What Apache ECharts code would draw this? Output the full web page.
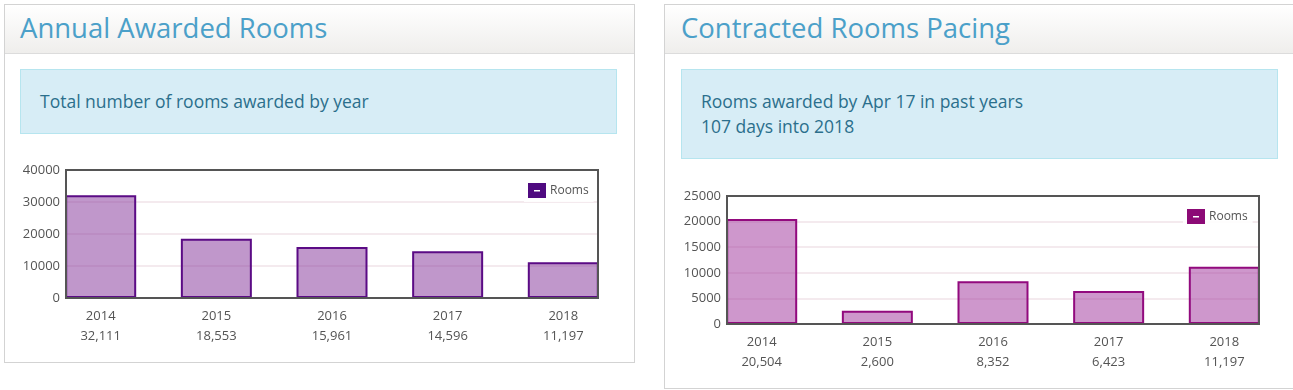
<!DOCTYPE html>
<html>
<head>
<meta charset="utf-8">
<script src="https://cdn.jsdelivr.net/npm/echarts@6/dist/echarts.min.js"></script>
<style>
  html, body { margin:0; padding:0; width:1293px; height:390px; overflow:hidden; background:#fff; font-family:"Open Sans", "DejaVu Sans", sans-serif; }
  .panel { position:absolute; border:1px solid #d3d3d3; box-sizing:border-box; background:#fff; }
  .head { position:absolute; left:0; top:0; right:0; height:48px; border-bottom:1px solid #dcdcdc;
          background:linear-gradient(#ffffff, #efeeec); }
  .head h2 { margin:0; font-weight:400; font-size:27.5px; line-height:46px; color:#4ba0c9; white-space:nowrap; }
  .info { position:absolute; top:64px; width:597px; box-sizing:border-box; background:#d7edf6; border:1px solid #b6e5ef;
          padding:19px 19px; font-size:17.5px; line-height:25px; color:#2b6f8c; }
  #chart { position:absolute; left:0; top:0; width:1293px; height:390px; }
</style>
</head>
<body>
<div class="panel" style="left:4px;top:4px;width:631px;height:359px;">
  <div class="head"><h2 style="padding-left:15px;">Annual Awarded Rooms</h2></div>
  <div class="info" style="left:15px;">Total number of rooms awarded by year</div>
</div>
<div class="panel" style="left:664px;top:4px;width:640px;height:385px;">
  <div class="head"><h2 style="padding-left:16px;">Contracted Rooms Pacing</h2></div>
  <div class="info" style="left:16px;">Rooms awarded by Apr 17 in past years<br>107 days into 2018</div>
</div>
<div id="chart"></div>
<script>
const years = [2014, 2015, 2016, 2017, 2018];
const annualRooms = [32111, 18553, 15961, 14596, 11197];
const pacingRooms = [20504, 2600, 8352, 6423, 11197];
const annualTicks = [0, 10000, 20000, 30000, 40000];
const pacingTicks = [0, 5000, 10000, 15000, 20000, 25000];

const fmt = v => v.toLocaleString('en-US');
const font = '"Open Sans", "DejaVu Sans", sans-serif';
const dashIcon = 'path://M0,0H18V15H0Z M6,7V8.5H12V7Z';

function xAxisFor(idx, values) {
  return {
    type: 'value', gridIndex: idx, min: 2013.7, max: 2018.3,
    axisLine: { show: false }, axisTick: { show: false }, splitLine: { show: false },
    axisLabel: {
      customValues: years, margin: 8, color: '#545454', fontSize: 13, fontFamily: font, lineHeight: 20,
      formatter: v => { const i = years.indexOf(Math.round(v)); return i < 0 ? '' : years[i] + '\n' + fmt(values[i]); }
    }
  };
}
function yAxisFor(idx, ticks) {
  return {
    type: 'value', gridIndex: idx, min: ticks[0], max: ticks[ticks.length - 1], interval: ticks[1] - ticks[0],
    axisLine: { show: false }, axisTick: { show: false },
    splitLine: { show: true, showMinLine: false, showMaxLine: false, lineStyle: { color: '#f1e3e9', width: 1.5 } },
    axisLabel: { margin: 6, color: '#545454', fontSize: 13, fontFamily: font, formatter: v => String(v) }
  };
}
function legendFor(left, top, color) {
  return {
    left: left, top: top, orient: 'vertical', backgroundColor: 'rgba(255,255,255,0.9)',
    padding: [4, 5, 4, 4], itemWidth: 18, itemHeight: 15, itemGap: 4,
    textStyle: { color: '#545454', fontSize: 12, fontFamily: font, padding: [0, 0, 0, -1] },
    selectedMode: false,
    data: [{ name: 'Rooms', icon: dashIcon, itemStyle: { color: color, borderWidth: 0 } }]
  };
}

const chart = echarts.init(document.getElementById('chart'));
chart.setOption({
  animation: false,
  grid: [
    { left: 66, top: 170, width: 532, height: 128, show: true, z: 10, borderColor: '#555555', borderWidth: 2, backgroundColor: 'transparent' },
    { left: 727, top: 196, width: 532, height: 128, show: true, z: 10, borderColor: '#555555', borderWidth: 2, backgroundColor: 'transparent' }
  ],
  xAxis: [xAxisFor(0, annualRooms), xAxisFor(1, pacingRooms)],
  yAxis: [yAxisFor(0, annualTicks), yAxisFor(1, pacingTicks)],
  legend: [legendFor(524, 179, '#4f0a80'), legendFor(1183, 205, '#8c0a76')],
  series: [
    { name: 'Rooms', type: 'bar', xAxisIndex: 0, yAxisIndex: 0, barWidth: 71,
      data: years.map((y, i) => [y, annualRooms[i]]),
      itemStyle: { color: 'rgba(129,47,151,0.5)', borderColor: '#5b0b85', borderWidth: 2 } },
    { name: 'Rooms', type: 'bar', xAxisIndex: 1, yAxisIndex: 1, barWidth: 71,
      data: years.map((y, i) => [y, pacingRooms[i]]),
      itemStyle: { color: 'rgba(157,47,153,0.5)', borderColor: '#920a7e', borderWidth: 2 } }
  ]
});
</script>
</body>
</html>
